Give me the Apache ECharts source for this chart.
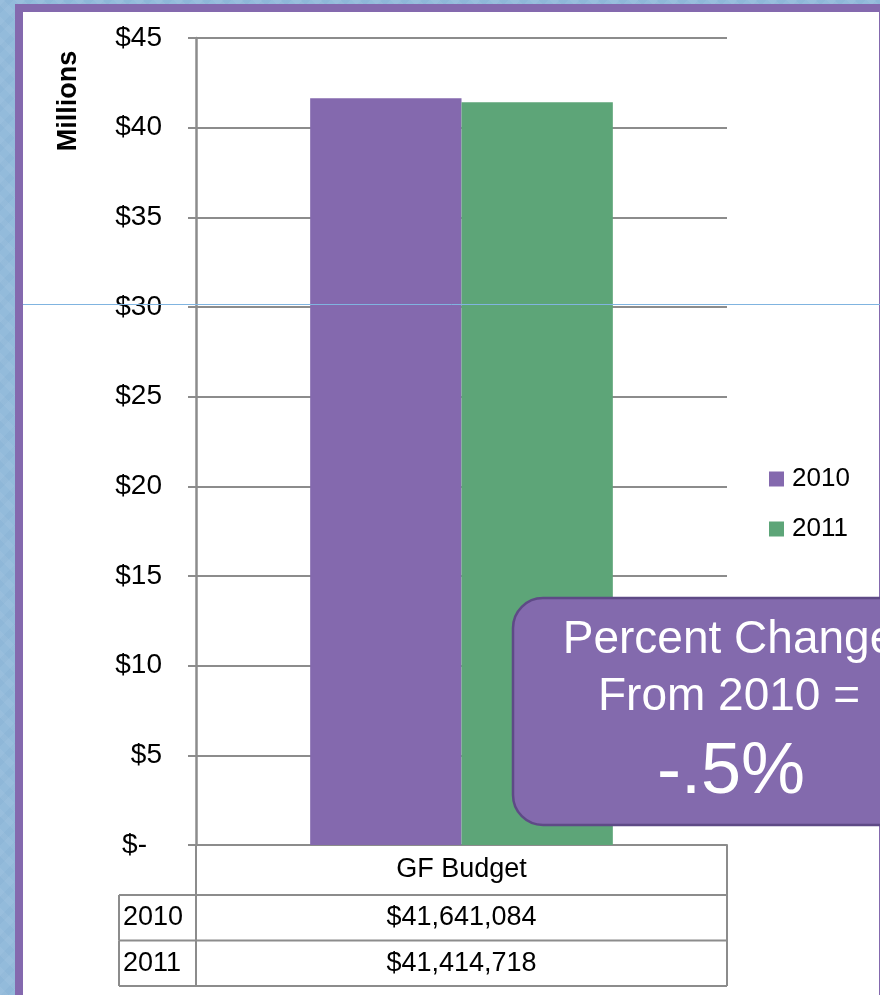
<!DOCTYPE html>
<html>
<head>
<meta charset="utf-8">
<title>GF Budget 2010 vs 2011</title>
<script src="https://cdn.jsdelivr.net/npm/echarts@6/dist/echarts.min.js"></script>
<style>
  html, body { margin: 0; padding: 0; }
  body {
    width: 880px; height: 995px; overflow: hidden;
    background-color: #93bbdb;
    background-image:
      repeating-linear-gradient(45deg, rgba(255,255,255,0.05) 0 6px, rgba(0,0,0,0) 6px 14px),
      repeating-linear-gradient(-45deg, rgba(70,120,170,0.06) 0 6px, rgba(0,0,0,0) 6px 14px);
  }
  #chart { width: 880px; height: 995px; }
</style>
</head>
<body>
<div id="chart"></div>
<script>
// Budget categories and yearly values (dollars)
const categories = ['GF Budget'];
const years = ['2010', '2011'];
const budget2010 = [41641084];
const budget2011 = [41414718];
const yTicks = [0, 5, 10, 15, 20, 25, 30, 35, 40, 45]; // millions

const purple = '#8469ae';
const green = '#5da578';
const gridGray = '#8c8c8c';
const font = '"Liberation Sans", Arial, sans-serif';

const toMillions = arr => arr.map(v => v / 1e6);
const money = v => '$' + v.toLocaleString('en-US');

// percent change shown in the callout, e.g. "-.5%"
const pct = ((budget2011[0] - budget2010[0]) / budget2010[0] * 100).toFixed(1)
  .replace(/^(-?)0\./, '$1.') + '%';

const chart = echarts.init(document.getElementById('chart'), null, { renderer: 'canvas' });

const GRID = { left: 196, right: 153, top: 38, bottom: 150 };

chart.setOption({
  backgroundColor: 'transparent',
  animation: false,
  grid: { left: GRID.left, right: GRID.right, top: GRID.top, bottom: GRID.bottom, containLabel: false },
  legend: {
    orient: 'vertical',
    left: 769, top: 466,
    padding: 0,
    itemWidth: 15, itemHeight: 15, itemGap: 24,
    icon: 'rect',
    textStyle: { fontFamily: font, fontSize: 26, color: '#000', lineHeight: 25, padding: [0, 0, 0, 3] },
    data: years
  },
  xAxis: {
    type: 'category',
    data: categories,
    axisLine: { show: true, lineStyle: { color: gridGray, width: 2 } },
    axisTick: { show: false },
    axisLabel: { show: false }
  },
  yAxis: {
    type: 'value',
    min: yTicks[0],
    max: yTicks[yTicks.length - 1],
    interval: yTicks[1] - yTicks[0],
    axisLine: { show: true, lineStyle: { color: gridGray, width: 2.5 } },
    axisTick: { show: true, length: 8, lineStyle: { color: gridGray, width: 2 } },
    splitLine: { show: true, lineStyle: { color: gridGray, width: 2 } },
    axisLabel: {
      fontFamily: font, fontSize: 28, color: '#000', margin: 34,
      formatter: v => v === 0 ? '{z|$-}' : '$' + v,
      rich: { z: { fontFamily: font, fontSize: 28, color: '#000', padding: [0, 15, 0, 0] } }
    }
  },
  series: [
    { name: years[0], type: 'bar', data: toMillions(budget2010), itemStyle: { color: purple }, barGap: '0%', barCategoryGap: '43%' },
    { name: years[1], type: 'bar', data: toMillions(budget2011), itemStyle: { color: green }, barGap: '0%', barCategoryGap: '43%' }
  ]
});

// Frame, axis title, data table and callout, placed from the grid's own coordinates
function drawExtras() {
  const x0 = chart.convertToPixel({ xAxisIndex: 0 }, categories[0]);
  const yBase = chart.convertToPixel({ yAxisIndex: 0 }, 0);
  const gl = GRID.left, gr = 880 - GRID.right;
  const headerH = 50, rowH = 45.5;
  const labelLeft = 119;
  const tableLines = [];
  const tableTexts = [];
  const line = (x1, y1, x2, y2) => tableLines.push({
    type: 'line', shape: { x1, y1, x2, y2 },
    style: { stroke: gridGray, lineWidth: 2 }, z: 10
  });
  const hText = yBase + headerH;
  // header cell
  line(gl, yBase, gl, hText);
  line(gr, yBase, gr, hText + rowH * years.length);
  line(labelLeft, hText, gr, hText);
  tableTexts.push({
    type: 'text', x: x0, y: yBase + headerH / 2, z: 11,
    style: { text: categories[0], fontFamily: font, fontSize: 27, fill: '#000', align: 'center', verticalAlign: 'middle' }
  });
  const rows = [budget2010, budget2011];
  rows.forEach((vals, i) => {
    const top = hText + rowH * i;
    line(labelLeft, top + rowH, gr, top + rowH);
    line(labelLeft, top, labelLeft, top + rowH);
    line(gl, top, gl, top + rowH);
    tableTexts.push({
      type: 'text', x: labelLeft + 4, y: top + rowH / 2, z: 11,
      style: { text: years[i], fontFamily: font, fontSize: 27, fill: '#000', align: 'left', verticalAlign: 'middle' }
    });
    tableTexts.push({
      type: 'text', x: x0, y: top + rowH / 2, z: 11,
      style: { text: money(vals[0]), fontFamily: font, fontSize: 27, fill: '#000', align: 'center', verticalAlign: 'middle' }
    });
  });

  const boxX = 513, boxY = 598, boxW = 436, boxH = 227;
  const cx = boxX + 216;

  chart.setOption({
    graphic: [
      // slide frame
      { type: 'rect', shape: { x: 15, y: 4, width: 900, height: 1010 }, style: { fill: purple }, z: -10, silent: true },
      { type: 'rect', shape: { x: 23, y: 12, width: 856, height: 1000 }, style: { fill: '#fff' }, z: -9, silent: true },
      // axis title
      { type: 'text', x: 69, y: 101, rotation: Math.PI / 2, z: 12,
        style: { text: 'Millions', fontFamily: font, fontSize: 27, fontWeight: 'bold', fill: '#000', align: 'center', verticalAlign: 'middle' } },
      // guide line across the slide
      { type: 'line', shape: { x1: 23, y1: 304.5, x2: 880, y2: 304.5 }, style: { stroke: '#80b4e0', lineWidth: 1 }, z: 50, silent: true },
      ...tableLines,
      ...tableTexts,
      // callout
      { type: 'rect', shape: { x: boxX, y: boxY, width: boxW, height: boxH, r: 30 },
        style: { fill: '#836aad', stroke: '#5e4a86', lineWidth: 2.5 }, z: 20 },
      { type: 'text', x: cx, y: 640, z: 21,
        style: { text: 'Percent Change', fontFamily: font, fontSize: 46, fill: '#fff', align: 'center', verticalAlign: 'middle' } },
      { type: 'text', x: cx, y: 697, z: 21,
        style: { text: 'From ' + years[0] + ' =', fontFamily: font, fontSize: 46, fill: '#fff', align: 'center', verticalAlign: 'middle' } },
      { type: 'text', x: cx + 2, y: 773, z: 21,
        style: { text: pct, fontFamily: font, fontSize: 72, fill: '#fff', align: 'center', verticalAlign: 'middle' } }
    ]
  });
}
drawExtras();
</script>
</body>
</html>
